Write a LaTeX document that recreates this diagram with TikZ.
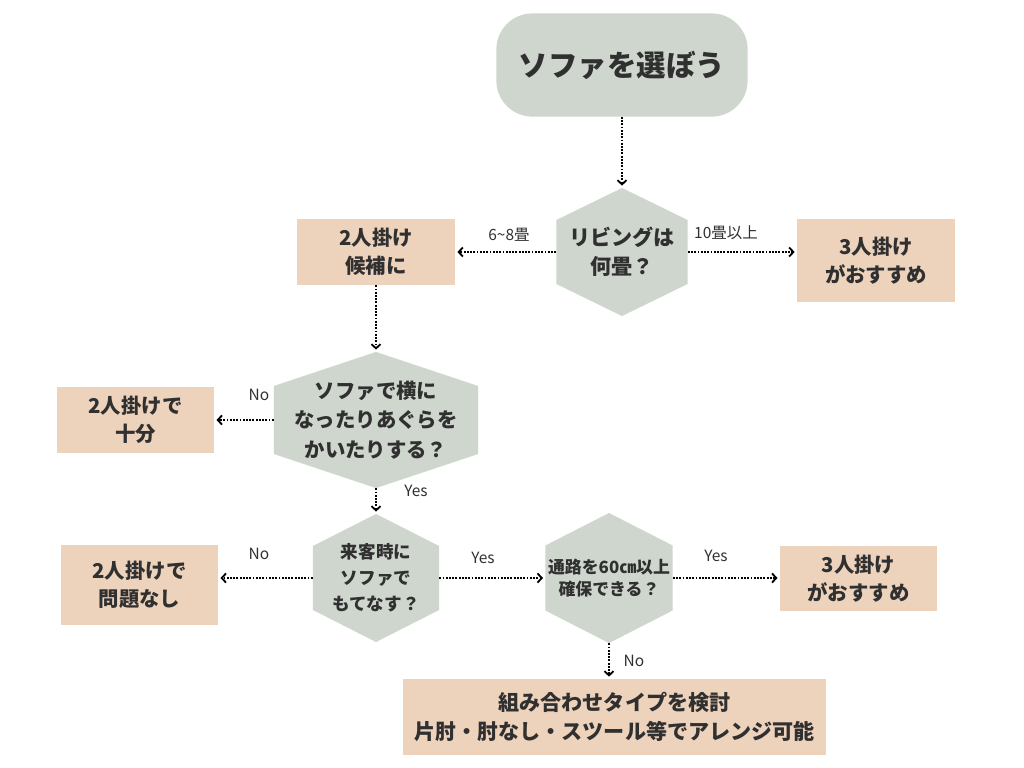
\documentclass[tikz,border=0pt]{standalone}
\usepackage{fontspec}
\setmainfont{Noto Sans CJK JP}
\usetikzlibrary{arrows.meta,calc}
\definecolor{sage}{HTML}{CED6CD}
\definecolor{peach}{HTML}{EDD2BC}
\definecolor{ink}{HTML}{303030}

\begin{document}
\begin{tikzpicture}[x=0.025cm,y=-0.025cm,
	startbox/.style={fill=sage,rounded corners=0.9cm,minimum width=6.28cm,minimum height=2.58cm,text=ink,font=\bfseries\fontsize{21}{25}\selectfont},
	ansbox/.style={fill=peach,align=center,text=ink,inner sep=0pt,font=\bfseries\fontsize{14.5}{20}\selectfont},
	hexbox/.style={align=center,text=ink,inner sep=0pt,path picture={
		\fill[sage] (path picture bounding box.north)
		-- ($(path picture bounding box.north east)!.25!(path picture bounding box.south east)$)
		-- ($(path picture bounding box.north east)!.75!(path picture bounding box.south east)$)
		-- (path picture bounding box.south)
		-- ($(path picture bounding box.north west)!.75!(path picture bounding box.south west)$)
		-- ($(path picture bounding box.north west)!.25!(path picture bounding box.south west)$)
		-- cycle;}},
	flow/.style={line width=1.2pt,dash pattern=on 1.3pt off 1pt,-{Straight Barb[length=3pt,width=6.5pt,line width=1.3pt]},shorten >=1.5pt},
	lbl/.style={text=ink,inner sep=0pt,font=\fontsize{11}{13}\selectfont}]
		\path[fill=white,use as bounding box] (0,0) rectangle (1024,768);
		\node[startbox] (start) at (622,65) {ソファを選ぼう};
		\node[hexbox,minimum width=3.28cm,minimum height=3.2cm,font=\bfseries\fontsize{15}{20.5}\selectfont] (living) at (622,252) {リビングは\\何畳？};
		\node[ansbox,minimum width=3.95cm,minimum height=1.65cm] (two) at (376,252) {2人掛け\\候補に};
		\node[ansbox,minimum width=3.95cm,minimum height=2.08cm] (three) at (876,260.5) {3人掛け\\がおすすめ};
		\node[hexbox,minimum width=5.1cm,minimum height=3.4cm,font=\bfseries\fontsize{14.5}{21}\selectfont] (lie) at (376,420) {ソファで横に\\なったりあぐらを\\かいたりする？};
		\node[ansbox,minimum width=3.93cm,minimum height=1.63cm] (enough) at (135.5,420) {2人掛けで\\十分};
		\node[hexbox,minimum width=3.15cm,minimum height=3.2cm,font=\bfseries\fontsize{12.5}{18.5}\selectfont] (guest) at (376,578) {来客時に\\ソファで\\もてなす？};
		\node[ansbox,minimum width=3.93cm,minimum height=2cm] (fine) at (139.5,585) {2人掛けで\\問題なし};
		\node[hexbox,minimum width=3.18cm,minimum height=3.25cm,font=\bfseries\fontsize{12}{15.5}\selectfont] (aisle) at (609,578) {通路を60㎝以上\\確保できる？};
		\node[ansbox,minimum width=3.93cm,minimum height=1.63cm] (three2) at (858.5,578.5) {3人掛け\\がおすすめ};
		\node[ansbox,minimum width=10.58cm,minimum height=1.9cm,font=\bfseries\fontsize{15}{21}\selectfont] (combo) at (614.5,717) {組み合わせタイプを検討\\片肘・肘なし・スツール等でアレンジ可能};
		\draw[flow] (start.south) -- (living.north);
		\draw[flow] (living.west) -- (two.east);
		\draw[flow] (living.east) -- (living.east -| three.west);
		\draw[flow] (two.south) -- (lie.north);
		\draw[flow] (lie.west) -- (enough.east);
		\draw[flow] (lie.south) -- (guest.north);
		\draw[flow] (guest.west) -- (guest.west -| fine.east);
		\draw[flow] (guest.east) -- (aisle.west);
		\draw[flow] (aisle.east) -- (aisle.east -| three2.west);
		\draw[flow] (aisle.south) -- (aisle.south |- combo.north);
		\node[lbl] (small) at (509,235) {6\textasciitilde8畳};
		\node[lbl] (large) at (726,233) {10畳以上};
		\node[lbl] (lieno) at (259,395) {No};
		\node[lbl] (lieyes) at (416,491) {Yes};
		\node[lbl] (guestno) at (259,554) {No};
		\node[lbl] (guestyes) at (483,558) {Yes};
		\node[lbl] (aisleyes) at (716,556) {Yes};
		\node[lbl] (aisleno) at (634,661) {No};
\end{tikzpicture}
\end{document}
